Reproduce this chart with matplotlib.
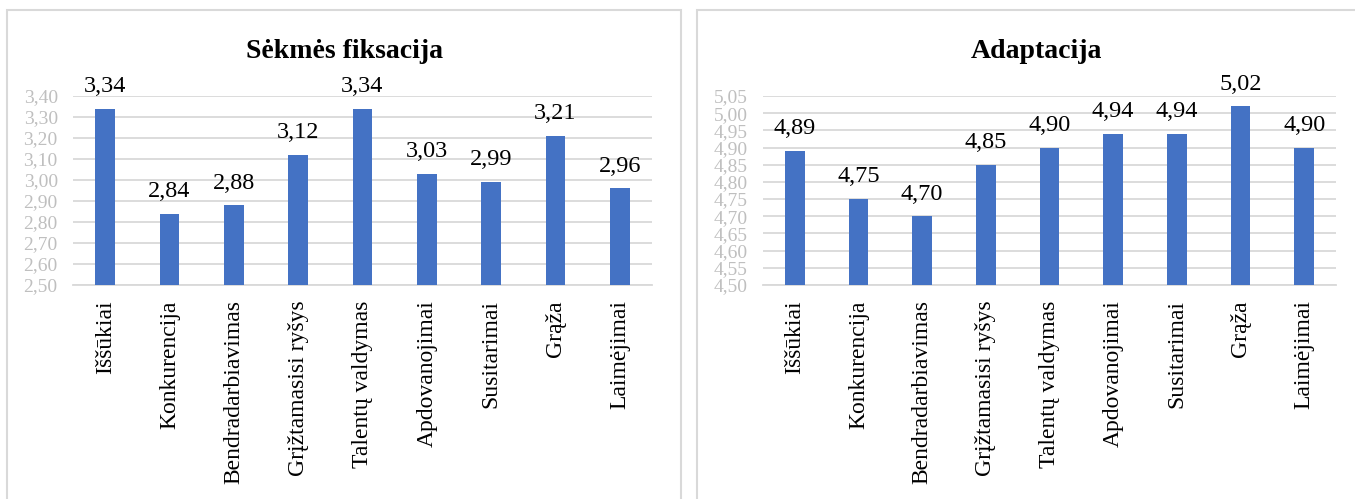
import matplotlib.pyplot as plt
from matplotlib.patches import Rectangle

categories = ["Iššūkiai", "Konkurencija", "Bendradarbiavimas", "Grįžtamasisi ryšys",
              "Talentų valdymas", "Apdovanojimai", "Susitarimai", "Grąža", "Laimėjimai"]
sekmes = [3.34, 2.84, 2.88, 3.12, 3.34, 3.03, 2.99, 3.21, 2.96]
adaptacija = [4.89, 4.75, 4.70, 4.85, 4.90, 4.94, 4.94, 5.02, 4.90]

sekmes_ticks = [2.50, 2.60, 2.70, 2.80, 2.90, 3.00, 3.10, 3.20, 3.30, 3.40]
adapt_ticks = [4.50, 4.55, 4.60, 4.65, 4.70, 4.75, 4.80, 4.85, 4.90, 4.95, 5.00, 5.05]

plt.rcParams['font.family'] = ['Liberation Serif', 'DejaVu Serif']

W, H = 1355, 499
fig = plt.figure(figsize=(W / 100, H / 100), dpi=100)

BLUE = '#4472c4'
GRID = '#d9d9d9'
TICK = '#bfbfbf'


def px_axes(x0, y0, x1, y1):
    return fig.add_axes([x0 / W, 1 - y1 / H, (x1 - x0) / W, (y1 - y0) / H])


def frame(x0, x1, y0=10, y1=520):
    fig.patches.append(Rectangle((x0 / W, 1 - y1 / H), (x1 - x0) / W, (y1 - y0) / H,
                                 transform=fig.transFigure, fill=False,
                                 edgecolor=GRID, linewidth=1.5))


def panel(ax, values, ticks, title, title_x):
    x = range(len(categories))
    ax.bar(x, values, width=0.31, color=BLUE, zorder=3)
    ax.set_xlim(-0.5, len(categories) - 0.5)
    ax.set_ylim(ticks[0], ticks[-1])
    ax.set_yticks(ticks)
    ax.set_yticklabels([f"{t:.2f}".replace('.', ',') for t in ticks],
                       color=TICK, fontsize=14)
    ax.set_xticks(list(x))
    ax.set_xticklabels(categories, rotation=90, fontsize=17)
    ax.tick_params(axis='both', length=0)
    ax.tick_params(axis='x', pad=11)
    ax.tick_params(axis='y', pad=11)
    ax.grid(axis='y', color=GRID, linewidth=1.3, zorder=0)
    for s in ['top', 'right', 'left']:
        ax.spines[s].set_visible(False)
    ax.spines['bottom'].set_color(GRID)
    ax.spines['bottom'].set_linewidth(1.3)
    for i, v in enumerate(values):
        ax.annotate(f"{v:.2f}".replace('.', ','), (i, v), xytext=(0, 12),
                    textcoords='offset points', ha='center', va='baseline',
                    fontsize=17.5, annotation_clip=False)
    fig.text(title_x / W, 1 - 58 / H, title, ha='center', va='baseline',
             fontsize=20, fontweight='bold')


frame(7, 681)
frame(697, 1380)

ax1 = px_axes(73, 96, 652, 285)
panel(ax1, sekmes, sekmes_ticks, "Sėkmės fiksacija", 344)

ax2 = px_axes(763, 96, 1336, 285)
panel(ax2, adaptacija, adapt_ticks, "Adaptacija", 1036)

fig.savefig('out.png', dpi=100)
